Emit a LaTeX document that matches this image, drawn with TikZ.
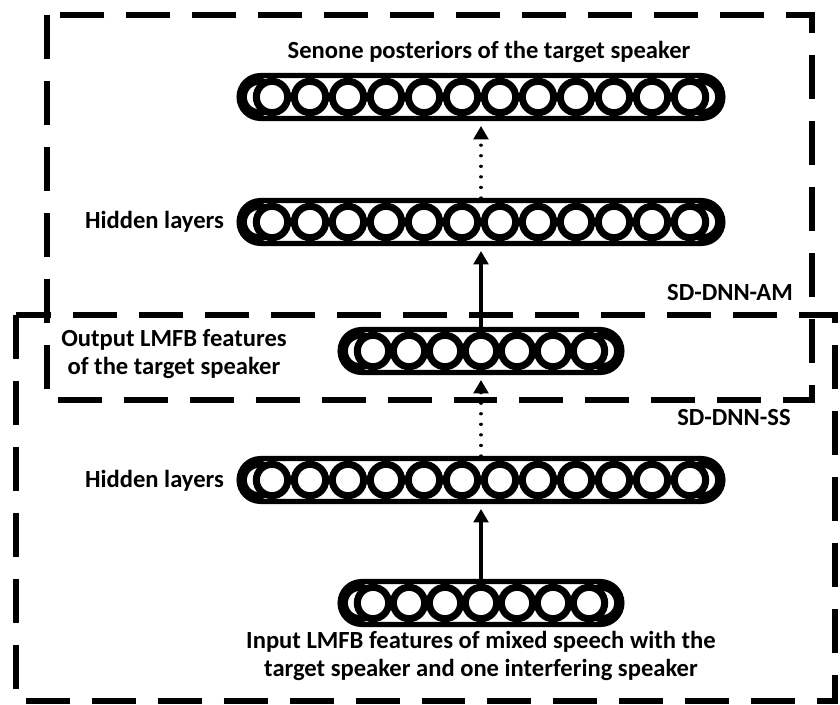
\documentclass[tikz,border=0pt]{standalone}
\usepackage{fontspec}
\setmainfont{Carlito}
\usetikzlibrary{arrows.meta}

\tikzset{
  layer/.style={draw, line width=4.3pt, fill=white, rounded corners=0.645cm,
    minimum height=1.29cm, inner sep=0pt},
  unit/.style={draw, fill=white, line width=6pt},
  conn/.style={line width=2.6pt, -{Triangle[width=0.44cm,length=0.4cm]}, shorten >=0.15cm},
  dots/.style={conn, dash pattern=on 0.01pt off 9pt, line cap=round, line width=2.8pt},
  frame/.style={line width=4.3pt, dash pattern=on 37.5pt off 18.8pt},
  lbl/.style={font=\fontsize{21}{24}\selectfont\bfseries, align=center, inner sep=0pt}
}

% one layer: name, x, y, number of units, spacing of the units
\newcommand{\nnlayer}[5]{%
  \node[layer, minimum width={((#4-1)*#5+66)*0.03cm}] (#1) at (#2,#3) {};
  \foreach \s in {-1,1}
    \draw[unit] ({#2+\s*((#4-1)*#5/2+13)},#3) circle[radius=0.47cm];
  \foreach \k in {1,...,#4}
    \draw[unit] ({#2+(\k-(#4+1)/2)*#5},#3) circle[radius=0.47cm];
}

\begin{document}
\begin{tikzpicture}[x=0.03cm, y=-0.03cm]
  \useasboundingbox (0,0) rectangle (840,705);

  % the two networks
  \draw[frame] (47,15) rectangle (812,400);
  \draw[frame] (16,315) rectangle (835,701);

  \nnlayer{senone}{481}{97}{12}{38}
  \nnlayer{hidA}{481}{222}{12}{38}
  \nnlayer{outfb}{481}{351}{7}{36}
  \nnlayer{hidB}{481}{480}{12}{38}
  \nnlayer{infb}{481}{603}{7}{36}

  \draw[conn] (infb.north) -- (hidB.south);
  \draw[dots] (hidB.north) -- (outfb.south);
  \draw[conn] (outfb.north) -- (hidA.south);
  \draw[dots] (hidA.north) -- (senone.south);

  \node[lbl] (title) at (489,52) {Senone posteriors of the target speaker};
  \node[lbl] (hidAlbl) at (154.5,222) {Hidden layers};
  \node[lbl] (amlbl) at (730,293) {SD-DNN-AM};
  \node[lbl] (outlbl) at (174,354) {Output LMFB features\\of the target speaker};
  \node[lbl] (sslbl) at (734,418) {SD-DNN-SS};
  \node[lbl] (hidBlbl) at (154.5,481) {Hidden layers};
  \node[lbl] (inlbl) at (481,656) {Input LMFB features of mixed speech with the\\target speaker and one interfering speaker};
\end{tikzpicture}
\end{document}
